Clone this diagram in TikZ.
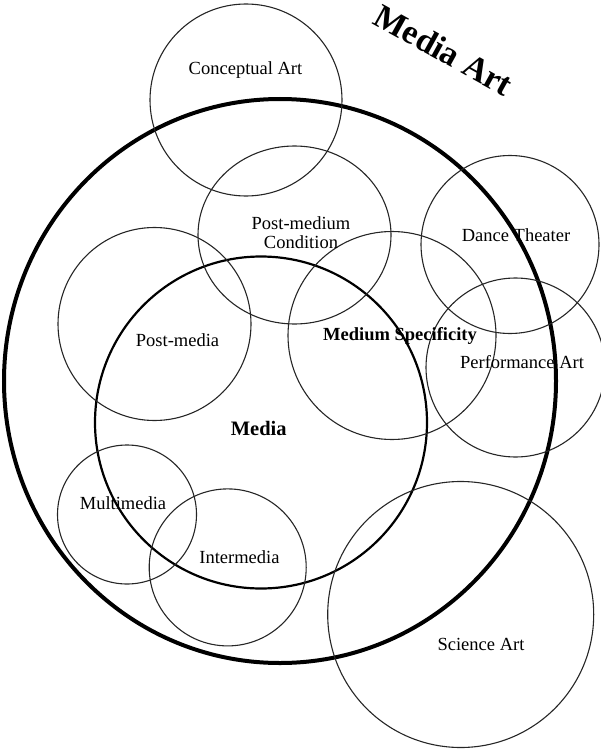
\documentclass[tikz,border=0pt]{standalone}
\usepackage{fontspec}
\setmainfont{Liberation Serif}
\begin{document}
\begin{tikzpicture}[x=1pt,y=-1pt,
  thin circ/.style={draw=black!85,line width=1.1pt},
  mid circ/.style={draw=black,line width=2.2pt},
  big circ/.style={draw=black,line width=4pt},
  lbl/.style={font=\fontsize{18.5}{21}\selectfont,align=center,inner sep=0pt},
  blbl/.style={lbl,font=\fontsize{18.5}{21}\selectfont\bfseries}]
\useasboundingbox (0,0) rectangle (600,749);
% circles
\draw[big circ] (280,381) ellipse [x radius=276, y radius=282];
\draw[mid circ] (261,422.5) circle [radius=166];
\draw[thin circ] (246,100) circle [radius=96];
\draw[thin circ] (294.5,235) ellipse [x radius=96.5, y radius=89];
\draw[thin circ] (154.5,324) circle [radius=96.5];
\draw[thin circ] (392,335.5) circle [radius=104];
\draw[thin circ] (510,244.5) circle [radius=89];
\draw[thin circ] (515.5,367.5) circle [radius=89.5];
\draw[thin circ] (127,514.5) circle [radius=69.5];
\draw[thin circ] (227.7,567.4) circle [radius=78.5];
\draw[thin circ] (460.7,614.5) circle [radius=133];
% labels
\node[lbl] (concept) at (245.5,70) {Conceptual Art};
\node[lbl] (postmed) at (301,233) {Post-medium\\[-2pt]Condition};
\node[lbl] (dance) at (516,235) {Dance Theater};
\node[lbl] (postmedia) at (177.5,340.5) {Post-media};
\node[blbl] (specif) at (400,336) {Medium Specificity};
\node[lbl] (perf) at (522,362.5) {Performance Art};
\node[blbl,font=\fontsize{20.5}{23}\selectfont\bfseries] (media) at (258.7,428.3) {Media};
\node[lbl] (multi) at (123,503.3) {Multimedia};
\node[lbl] (inter) at (239.4,557.3) {Intermedia};
\node[lbl] (science) at (481,644) {Science Art};
\node[lbl,font=\fontsize{34}{36}\selectfont\bfseries,rotate=-29] (mediaart) at (444,50) {Media Art};
\end{tikzpicture}
\end{document}
